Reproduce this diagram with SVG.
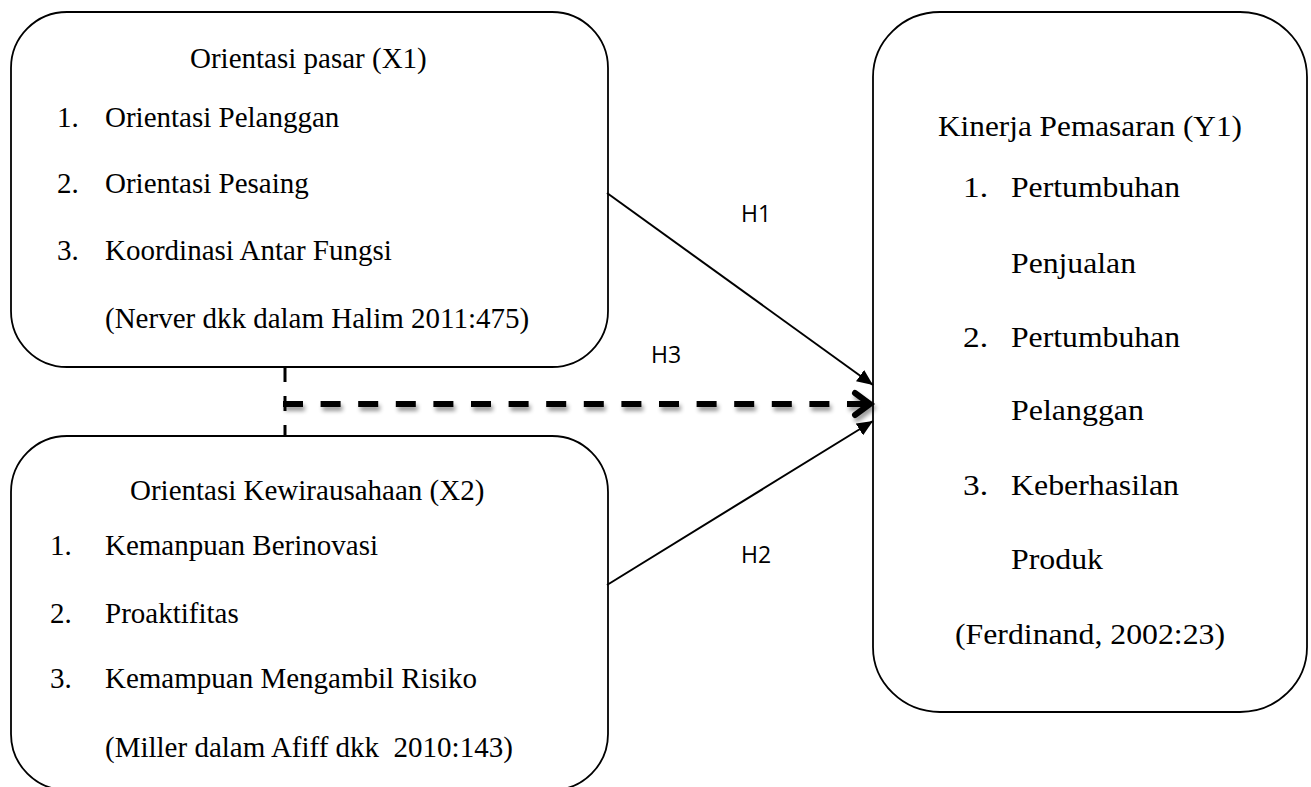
<svg xmlns="http://www.w3.org/2000/svg" width="1311" height="787" viewBox="0 0 1311 787">
<style>
.box{fill:#fff;stroke:#000;stroke-width:1.8}
.t{font-family:"Liberation Serif","Times New Roman",serif;font-size:29px;fill:#000}
.h{font-family:"Open Sans","Liberation Sans",sans-serif;font-size:23px;fill:#000}
.ln{stroke:#000;stroke-width:2;fill:none}
.dash{stroke:#000;stroke-width:6;fill:none;stroke-dasharray:20 17.6}
.vd{stroke:#000;stroke-width:3;fill:none;stroke-dasharray:15 14}
</style>
<defs>
<marker id="arr" markerUnits="userSpaceOnUse" markerWidth="17" markerHeight="14" refX="16" refY="7" orient="auto">
<path d="M0,0 L16,7 L0,14 z" fill="#000"/>
</marker>
<filter id="sh" filterUnits="userSpaceOnUse" x="270" y="380" width="620" height="50">
<feGaussianBlur in="SourceAlpha" stdDeviation="2"/>
<feOffset dx="2" dy="4" result="b"/>
<feComponentTransfer><feFuncA type="linear" slope="0.4"/></feComponentTransfer>
<feMerge><feMergeNode/><feMergeNode in="SourceGraphic"/></feMerge>
</filter>
</defs>
<rect width="1311" height="787" fill="#fff"/>
<g id="x1">
<rect class="box" x="11" y="12" width="597" height="355" rx="56" ry="56"/>
<text class="t" x="190" y="68">Orientasi pasar (X1)</text>
<text class="t" x="57" y="127">1.</text><text class="t" x="105" y="127">Orientasi Pelanggan</text>
<text class="t" x="57" y="193">2.</text><text class="t" x="105" y="193">Orientasi Pesaing</text>
<text class="t" x="57" y="260">3.</text><text class="t" x="105" y="260">Koordinasi Antar Fungsi</text>
<text class="t" x="105" y="328">(Nerver dkk dalam Halim 2011:475)</text>
</g>
<g id="x2">
<rect class="box" x="11" y="436" width="597" height="354" rx="56" ry="56"/>
<text class="t" x="130" y="500">Orientasi Kewirausahaan (X2)</text>
<text class="t" x="50" y="555">1.</text><text class="t" x="105" y="555">Kemanpuan Berinovasi</text>
<text class="t" x="50" y="623">2.</text><text class="t" x="105" y="623">Proaktifitas</text>
<text class="t" x="50" y="688">3.</text><text class="t" x="105" y="688">Kemampuan Mengambil Risiko</text>
<text class="t" x="105" y="757">(Miller dalam Afiff dkk&#160; 2010:143)</text>
</g>
<g id="y1">
<rect class="box" x="873" y="12" width="434" height="700" rx="67" ry="65"/>
<text class="t" x="938" y="136" textLength="304" lengthAdjust="spacingAndGlyphs">Kinerja Pemasaran (Y1)</text>
<text class="t" x="963" y="197" textLength="25" lengthAdjust="spacingAndGlyphs">1.</text><text class="t" x="1011" y="197" textLength="169" lengthAdjust="spacingAndGlyphs">Pertumbuhan</text>
<text class="t" x="1011" y="273" textLength="125" lengthAdjust="spacingAndGlyphs">Penjualan</text>
<text class="t" x="963" y="347" textLength="25" lengthAdjust="spacingAndGlyphs">2.</text><text class="t" x="1011" y="347" textLength="169" lengthAdjust="spacingAndGlyphs">Pertumbuhan</text>
<text class="t" x="1011" y="420" textLength="133" lengthAdjust="spacingAndGlyphs">Pelanggan</text>
<text class="t" x="963" y="495" textLength="25" lengthAdjust="spacingAndGlyphs">3.</text><text class="t" x="1011" y="495" textLength="168" lengthAdjust="spacingAndGlyphs">Keberhasilan</text>
<text class="t" x="1011" y="569" textLength="92" lengthAdjust="spacingAndGlyphs">Produk</text>
<text class="t" x="955" y="644" textLength="270" lengthAdjust="spacingAndGlyphs">(Ferdinand, 2002:23)</text>
</g>
<g id="connectors">
<line class="ln" x1="607" y1="193" x2="873" y2="385" marker-end="url(#arr)"/>
<line class="ln" x1="607" y1="585" x2="873" y2="421" marker-end="url(#arr)"/>
<line class="vd" x1="285" y1="367" x2="285" y2="436"/>
<g filter="url(#sh)">
<line class="dash" x1="283" y1="404" x2="868" y2="404"/>
<path d="M855,393 L870,404 L855,415" fill="none" stroke="#000" stroke-width="6" stroke-linecap="round" stroke-linejoin="miter"/>
</g>
<text class="h" x="741" y="222">H1</text>
<text class="h" x="651" y="363">H3</text>
<text class="h" x="741" y="563">H2</text>
</g>
</svg>
